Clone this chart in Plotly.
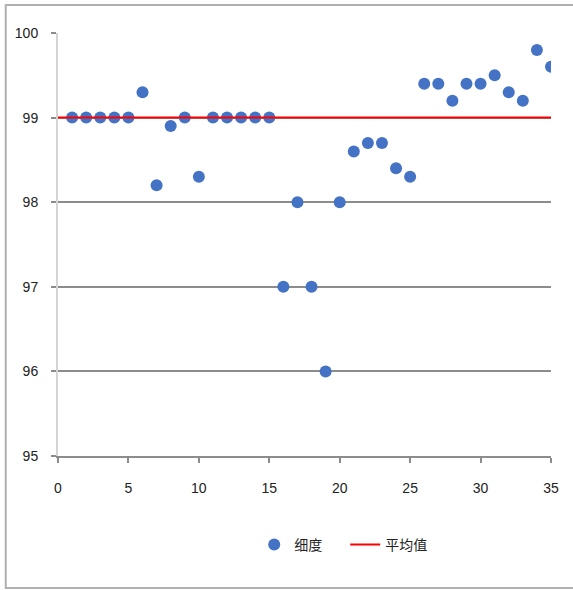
import plotly.graph_objects as go

# Sample index and measured fineness
sample_no = list(range(1, 36))
fineness = [99.0, 99.0, 99.0, 99.0, 99.0, 99.3, 98.2, 98.9, 99.0, 98.3,
            99.0, 99.0, 99.0, 99.0, 99.0, 97.0, 98.0, 97.0, 96.0, 98.0,
            98.6, 98.7, 98.7, 98.4, 98.3, 99.4, 99.4, 99.2, 99.4, 99.4,
            99.5, 99.3, 99.2, 99.8, 99.6]

# Reference mean line
mean_x = [0, 35]
mean_value = 99.0

x_ticks = [0, 5, 10, 15, 20, 25, 30, 35]
y_ticks = [95, 96, 97, 98, 99, 100]

label_font = dict(family="Liberation Sans Narrow, Liberation Sans, Arial", size=14, color="#222222")

fig = go.Figure()
fig.add_trace(go.Scatter(
    x=sample_no, y=fineness, mode="markers", name="细度",
    marker=dict(symbol="circle", size=12, color="#4472C4"),
))
fig.add_trace(go.Scatter(
    x=mean_x, y=[mean_value] * len(mean_x), mode="lines", name="平均值",
    line=dict(color="#FF0000", width=2),
))

fig.update_layout(
    width=573, height=590,
    margin=dict(l=58, r=22, t=33, b=134),
    paper_bgcolor="white", plot_bgcolor="white",
    showlegend=True,
    legend=dict(
        orientation="h", x=0.398, xanchor="left", y=-0.21, yanchor="middle",
        font=dict(family="Noto Sans CJK SC", size=14, color="#222222"),
        itemwidth=30, entrywidth=46, traceorder="normal",
    ),
    xaxis=dict(
        range=[0, 35], tickvals=x_ticks, showgrid=False, zeroline=False,
        showline=True, linecolor="#8c8c8c", linewidth=1.5,
        ticks="outside", ticklen=5, tickcolor="#8c8c8c", tickwidth=1.5,
        tickfont=label_font, ticklabelstandoff=13, fixedrange=True,
    ),
    yaxis=dict(
        range=[95, 100], tickvals=y_ticks, showgrid=True, gridcolor="#8c8c8c",
        gridwidth=1.5, zeroline=False,
        showline=True, linecolor="#d4d4d4", linewidth=2,
        ticks="outside", ticklen=5, tickcolor="#8c8c8c", tickwidth=1.5,
        tickfont=label_font, ticklabelstandoff=10, fixedrange=True,
    ),
    shapes=[dict(
        type="rect", xref="paper", yref="paper",
        x0=-0.106, x1=1.2, y0=-0.312, y1=1.066,
        line=dict(color="#b0b0b0", width=2), fillcolor="rgba(0,0,0,0)",
        layer="below",
    )],
)

fig.write_html("out.html")
